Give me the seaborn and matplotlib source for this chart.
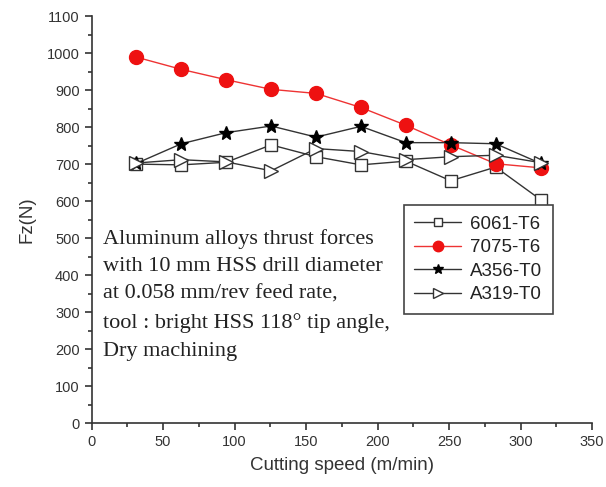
import numpy as np
import pandas as pd
import matplotlib
matplotlib.use('Agg')
import matplotlib.pyplot as plt
import seaborn as sns
from matplotlib.ticker import MultipleLocator

# =====================
# Data
# =====================
speed = [31.4, 62.8, 94.2, 125.6, 157.0, 188.4, 219.8, 251.2, 282.6, 314.0]

fz_6061_t6 = [700, 698, 705, 752, 720, 698, 708, 655, 692, 604]
fz_7075_t6 = [989, 956, 928, 902, 891, 853, 805, 752, 701, 690]
fz_a356_t0 = [702, 755, 785, 803, 773, 802, 758, 758, 755, 702]
fz_a319_t0 = [703, 712, 706, 682, 742, 734, 712, 720, 724, 704]

series_names = ['6061-T6', '7075-T6', 'A356-T0', 'A319-T0']

df = pd.DataFrame({
    'speed': speed * 4,
    'fz': fz_6061_t6 + fz_7075_t6 + fz_a356_t0 + fz_a319_t0,
    'alloy': np.repeat(series_names, len(speed)),
})

# marker styling per alloy
styles = {
    '6061-T6': dict(marker='s', markersize=8, markerfacecolor='white',
                    markeredgecolor='#333333', color='#333333'),
    '7075-T6': dict(marker='o', markersize=10, markerfacecolor='#ee1111',
                    markeredgecolor='#ee1111', color='#ee3333'),
    'A356-T0': dict(marker='*', markersize=10.5, markerfacecolor='black',
                    markeredgecolor='black', color='#333333'),
    'A319-T0': dict(marker='>', markersize=10, markerfacecolor='white',
                    markeredgecolor='#333333', color='#333333'),
}

# =====================
# Plot
# =====================
sns.set_style('ticks')
plt.rcParams['font.family'] = ['Liberation Sans', 'DejaVu Sans']

fig = plt.figure(figsize=(6.06, 4.87), dpi=100)
ax = fig.add_axes([0.151, 0.131, 0.826, 0.836])

for name in series_names:
    sub = df[df['alloy'] == name]
    sns.lineplot(data=sub, x='speed', y='fz', ax=ax, label=name,
                 linewidth=1.0, markeredgewidth=1.0, **styles[name])

ax.set_xlim(0, 350)
ax.set_ylim(0, 1100)
ax.xaxis.set_major_locator(MultipleLocator(50))
ax.xaxis.set_minor_locator(MultipleLocator(25))
ax.yaxis.set_major_locator(MultipleLocator(100))
ax.yaxis.set_minor_locator(MultipleLocator(50))
ax.tick_params(which='major', direction='out', length=5, width=1.2,
               color='#333333', labelsize=10.5, labelcolor='#333333')
ax.tick_params(which='minor', direction='out', length=3, width=1.2,
               color='#333333')

for side in ['top', 'right']:
    ax.spines[side].set_visible(False)
for side in ['left', 'bottom']:
    ax.spines[side].set_color('#333333')
    ax.spines[side].set_linewidth(1.2)

ax.set_xlabel('Cutting speed (m/min)', fontsize=13.5, color='#333333', labelpad=6)
ax.set_ylabel('Fz(N)', fontsize=13.5, color='#333333', labelpad=8)

leg = ax.legend(loc='upper left', bbox_to_anchor=(0.624, 0.535),
                fontsize=13.5, frameon=True, fancybox=False, markerscale=0.75,
                handlelength=2.5, labelspacing=0.34, borderpad=0.55,
                handletextpad=0.5, borderaxespad=0)
leg.get_frame().set_edgecolor('#444444')
leg.get_frame().set_linewidth(1.2)
leg.get_frame().set_alpha(1)
for t in leg.get_texts():
    t.set_color('#222222')

ax.text(0.023, 0.478,
        'Aluminum alloys thrust forces\n'
        'with 10 mm HSS drill diameter\n'
        'at 0.058 mm/rev feed rate,\n'
        'tool : bright HSS 118\u00b0 tip angle,\n'
        'Dry machining',
        transform=ax.transAxes, ha='left', va='top',
        family=['Liberation Serif', 'DejaVu Serif'], fontsize=16,
        linespacing=1.62, color='#222222')

fig.savefig('out.png', dpi=100)
